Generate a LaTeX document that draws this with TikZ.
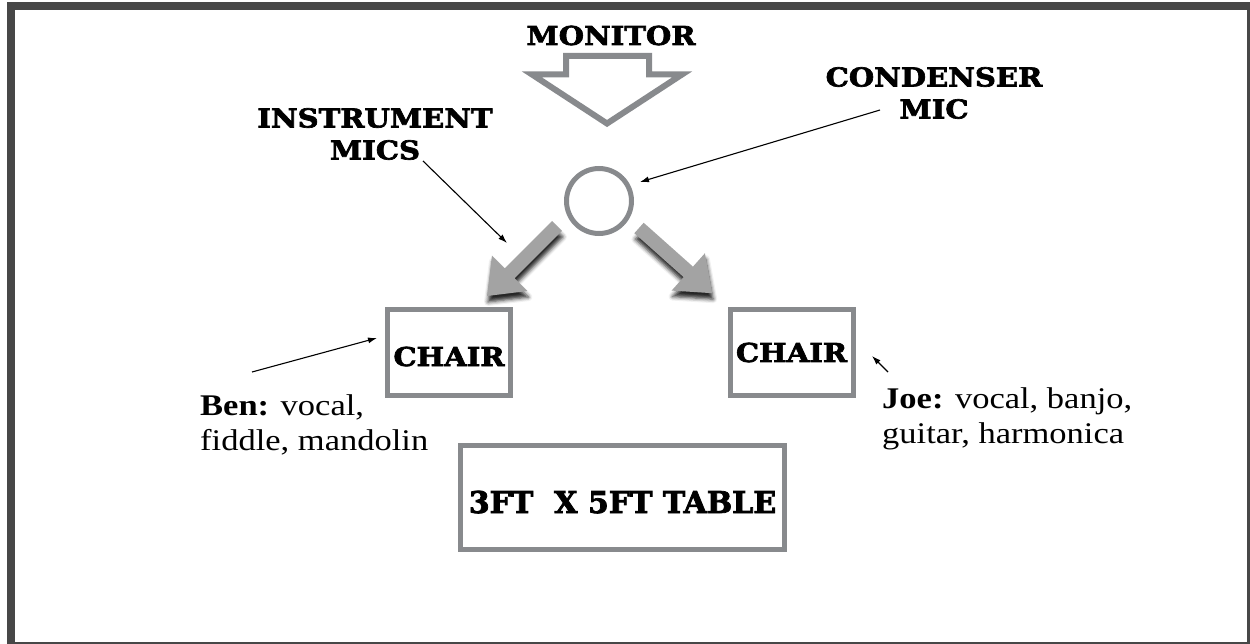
\documentclass[tikz,border=0pt]{standalone}
\usepackage{fontspec}
\setmainfont{Liberation Serif}[FakeStretch=1.15]
\newfontfamily\slabfont{DejaVu Serif}[FakeStretch=1.12, FakeBold=2.6]
\newfontfamily\slabplain{DejaVu Serif}[FakeBold=2.6]
\usetikzlibrary{arrows.meta,shadows.blur}

\definecolor{framegray}{RGB}{71,71,71}
\definecolor{linegray}{RGB}{136,138,141}
\definecolor{arrowgray}{RGB}{163,163,163}

\tikzset{
  tag/.style={font=\slabfont\bfseries\fontsize{26}{32}\selectfont, align=center, inner sep=0pt},
  seat/.style={draw=linegray, line width=5pt, inner sep=0pt, font=\slabfont\bfseries\fontsize{26}{32}\selectfont},
  note/.style={font=\fontsize{30}{34.5}\selectfont, align=left, inner sep=0pt},
  pointer/.style={-{Latex[length=9pt,width=6pt]}, line width=1.1pt},
  fatarrow/.style={fill=arrowgray, blur shadow={shadow xshift=1pt, shadow yshift=-6pt, shadow blur radius=4pt, shadow opacity=85}},
}

\begin{document}
\begin{tikzpicture}[x=1pt,y=-1pt]
    \useasboundingbox (0,0) rectangle (1250,644);
    \draw[framegray, line width=8pt] (11,6) rectangle (1251,646);

    % monitor and its hollow arrow
    \node[tag] (monitor) at (611,35.5) {MONITOR};
    \draw[linegray, line width=6pt] (566,56) -- (649,56) -- (649,74.5) -- (682,74.5) -- (607,123.5) -- (532,74.5) -- (566,74.5) -- cycle;

    % condenser mic
    \node[draw=linegray, line width=5pt, circle, minimum size=65pt, inner sep=0pt] (mic) at (599,201) {};

    % instrument mics
    \begin{scope}[shift={(557,226)}, rotate=-135]
        \fill[fatarrow] (0,-7) -- (67,-7) -- (67,-25) -- (99,0) -- (67,25) -- (67,7) -- (0,7) -- cycle;
    \end{scope}
    \begin{scope}[shift={(639,228)}, rotate=-41.7]
        \fill[fatarrow] (0,-7) -- (66,-7) -- (66,-25) -- (98,0) -- (66,25) -- (66,7) -- (0,7) -- cycle;
    \end{scope}

    % chairs and table
    \node[seat, minimum width=123pt, minimum height=86pt, text height=27pt, text depth=0pt] (chairL) at (449,352.5) {CHAIR};
    \node[seat, minimum width=123pt, minimum height=86pt] (chairR) at (791.5,352.5) {CHAIR};
    \node[seat, minimum width=324pt, minimum height=104pt, text height=31pt, text depth=0pt, font=\slabplain\bfseries\fontsize{30}{34}\selectfont] (table) at (622.5,497.5) {3FT\ \ X 5FT TABLE};

    % labels
    \node[tag] (instr) at (375,134) {INSTRUMENT\\MICS};
    \node[tag] (cond) at (934,93) {CONDENSER\\MIC};
    \node[note, anchor=base west] (ben) at (200,450) {\textbf{Ben:} vocal,\\fiddle, mandolin};
    \node[note, anchor=base west] (joe) at (882,443) {\textbf{Joe:} vocal, banjo,\\guitar, harmonica};

    % pointers
    \coordinate (instrtail) at (423,161);
    \coordinate (instrtip) at (507,243);
    \coordinate (condtail) at (880,110);
    \coordinate (condtip) at (640,182);
    \coordinate (bentail) at (252,372);
    \coordinate (bentip) at (377,338);
    \coordinate (joetail) at (888,372);
    \coordinate (joetip) at (872,356);
    \draw[pointer] (instrtail) -- (instrtip);
    \draw[pointer] (condtail) -- (condtip);
    \draw[pointer] (bentail) -- (bentip);
    \draw[pointer] (joetail) -- (joetip);
\end{tikzpicture}
\end{document}
